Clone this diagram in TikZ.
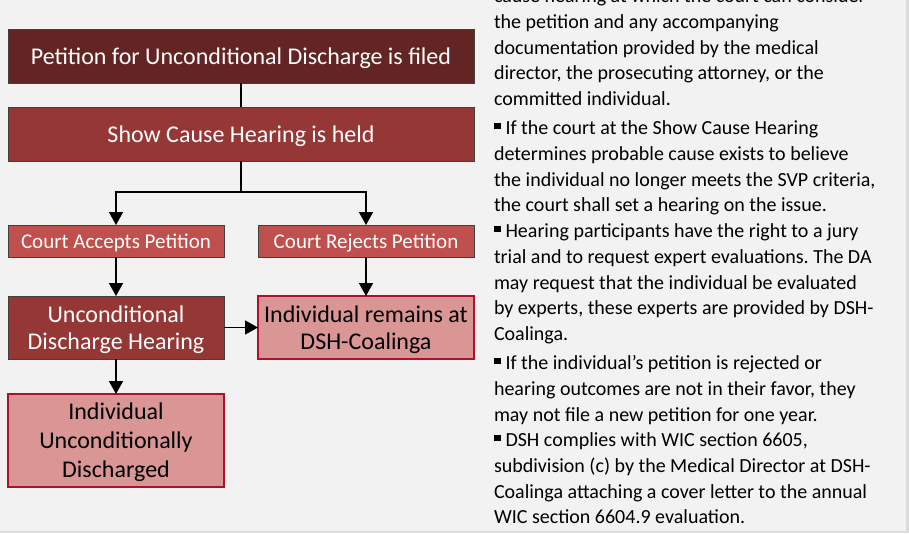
\documentclass[tikz,border=0pt]{standalone}
\usepackage{fontspec}
\setmainfont{Carlito}
\usetikzlibrary{positioning, arrows.meta}
\definecolor{vinooscuro}{HTML}{632523}
\definecolor{vino}{HTML}{953735}
\definecolor{rojizo}{HTML}{C0504D}
\definecolor{rosado}{HTML}{D99694}
\definecolor{bordeRojo}{HTML}{B0102A}
\definecolor{fondo}{HTML}{F2F2F2}
\definecolor{marco}{HTML}{DCDCDC}
\newcommand{\bala}{\rule[5.5pt]{6.5pt}{6.5pt}\hspace{5pt}}
\frenchspacing

\begin{document}
\begin{tikzpicture}[
    node distance=24pt and 34pt,
    every node/.style={outer sep=0pt},
    stage/.style={draw=black!75, line width=0.8pt, text=white, align=center,
        minimum width=466pt, minimum height=54pt, inner sep=1pt, text depth=0pt,
        font=\fontsize{24}{27}\selectfont},
    ruling/.style={draw=black!75, line width=0.8pt, fill=rojizo, text=white,
        minimum width=216pt, minimum height=32pt, inner sep=1pt, text depth=0pt,
        font=\fontsize{21}{24}\selectfont},
    outcome/.style={draw=bordeRojo, line width=2pt, fill=rosado, text=black,
        align=center, minimum width=216pt, minimum height=63pt, inner sep=1pt,
        text depth=0pt, font=\fontsize{24}{27}\selectfont},
    notas/.style={align=left, inner sep=0pt, text=black,
        font=\fontsize{20}{25.7}\selectfont},
    linea/.style={line width=1.6pt},
    flecha/.style={-{Triangle[length=13pt, width=14pt]}, line width=1.6pt}
]
\useasboundingbox (0,0) rectangle (909pt,-533pt);
\clip (0,0) rectangle (909pt,-533pt);
\fill[marco] (0,0) rectangle (909pt,-533pt);
\fill[fondo] (0,0) rectangle (906pt,-531pt);

\node[stage, fill=vinooscuro] (filed) at (241pt,-56pt) {Petition for Unconditional Discharge is filed};
\node[stage, fill=vino, below=24pt of filed] (showcause) {Show Cause Hearing is held};
\node[ruling, below right=64pt and 0pt of showcause.south west] (accepts) {Court Accepts Petition};
\node[ruling, below left=64pt and 0pt of showcause.south east] (rejects) {Court Rejects Petition};
\node[stage, fill=vino, minimum width=216pt, minimum height=63pt,
    below=39pt of accepts] (uhearing) {Unconditional\\Discharge Hearing};
\node[outcome, below=39pt of rejects] (remains) {Individual remains at\\DSH-Coalinga};
\node[outcome, minimum height=93pt, font=\fontsize{24}{29}\selectfont,
    below=35pt of uhearing] (discharged) {Individual\\Unconditionally\\Discharged};
\coordinate[below=31pt of showcause] (split);

\draw[linea] (filed) -- (showcause);
\draw[linea] (showcause) -- (split);
\draw[flecha] (split) -| (accepts);
\draw[flecha] (split) -| (rejects);
\draw[flecha] (accepts) -- (uhearing);
\draw[flecha] (rejects) -- (remains);
\draw[flecha] (uhearing) -- (remains);
\draw[flecha] (uhearing) -- (discharged);

\node[notas, anchor=north west] (notes) at (494pt,11pt) {cause hearing at which the court can consider\\
the petition and any accompanying\\
documentation provided by the medical\\
director, the prosecuting attorney, or the\\
committed individual.\\[3.5pt]
\bala If the court at the Show Cause Hearing\\
determines probable cause exists to believe\\
the individual no longer meets the SVP criteria,\\
the court shall set a hearing on the issue.\\
\bala Hearing participants have the right to a jury\\
trial and to request expert evaluations. The DA\\
may request that the individual be evaluated\\
by experts, these experts are provided by DSH-\\
Coalinga.\\[3.5pt]
\bala If the individual’s petition is rejected or\\
hearing outcomes are not in their favor, they\\
may not file a new petition for one year.\\
\bala DSH complies with WIC section 6605,\\
subdivision (c) by the Medical Director at DSH-\\
Coalinga attaching a cover letter to the annual\\
WIC section 6604.9 evaluation.};
\end{tikzpicture}
\end{document}
